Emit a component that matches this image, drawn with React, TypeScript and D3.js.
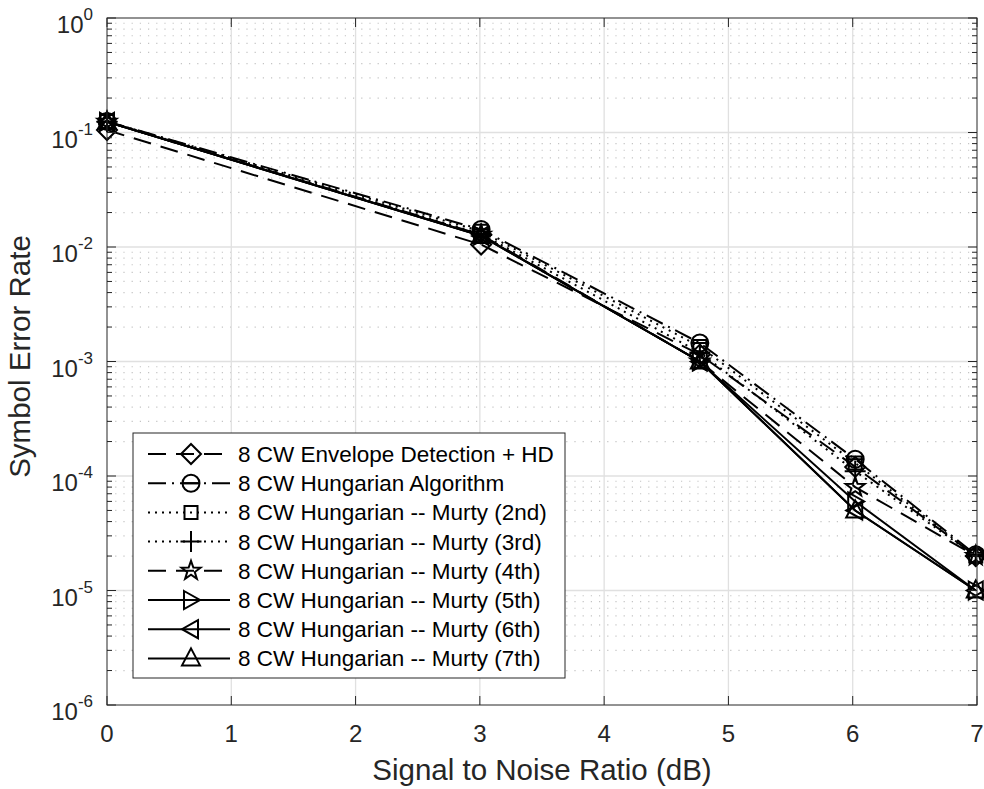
import React, { useEffect, useRef } from 'react';
import * as d3 from 'd3';

// SNR in dB
const snrDb = [0, 3.01, 4.77, 6.02, 6.99];

// symbol error rate per detector
const envelopeHd = [0.105, 0.0105, 1.15e-3, 1.2e-4, 2e-5];
const hungarian = [0.125, 0.0142, 1.45e-3, 1.4e-4, 2.05e-5];
const murty2 = [0.125, 0.0137, 1.35e-3, 1.3e-4, 2e-5];
const murty3 = [0.124, 0.013, 1.2e-3, 1.1e-4, 2e-5];
const murty4 = [0.124, 0.0128, 1.0e-3, 8e-5, 2e-5];
const murty5 = [0.124, 0.0126, 1.0e-3, 6e-5, 1e-5];
const murty6 = [0.124, 0.0125, 1.0e-3, 5e-5, 1e-5];
const murty7 = [0.124, 0.0125, 1.0e-3, 5e-5, 1e-5];

const seriesNames = [
  '8 CW Envelope Detection + HD',
  '8 CW Hungarian Algorithm',
  '8 CW Hungarian -- Murty (2nd)',
  '8 CW Hungarian -- Murty (3rd)',
  '8 CW Hungarian -- Murty (4th)',
  '8 CW Hungarian -- Murty (5th)',
  '8 CW Hungarian -- Murty (6th)',
  '8 CW Hungarian -- Murty (7th)',
];
const seriesValues = [envelopeHd, hungarian, murty2, murty3, murty4, murty5, murty6, murty7];
const seriesDash = ['18,10', '18,6,2,6', '2,5', '2,5', '18,10', null, null, null];
const seriesMarker = ['diamond', 'circle', 'square', 'plus', 'star', 'right', 'left', 'up'];

const xTicks = [0, 1, 2, 3, 4, 5, 6, 7];
const yExponents = [0, -1, -2, -3, -4, -5, -6];

const FONT = '"Liberation Sans", Arial, Helvetica, sans-serif';
const INK = '#262626';

function markerPath(kind: string, cx: number, cy: number): string {
  const p = d3.path();
  if (kind === 'diamond') {
    const r = 10;
    p.moveTo(cx, cy - r); p.lineTo(cx + r, cy); p.lineTo(cx, cy + r); p.lineTo(cx - r, cy); p.closePath();
  } else if (kind === 'circle') {
    p.moveTo(cx + 8.5, cy); p.arc(cx, cy, 8.5, 0, Math.PI * 2);
    p.moveTo(cx - 8.5, cy); p.lineTo(cx + 8.5, cy);
  } else if (kind === 'square') {
    p.rect(cx - 6.5, cy - 6.5, 13, 13);
  } else if (kind === 'plus') {
    p.moveTo(cx - 10.5, cy); p.lineTo(cx + 10.5, cy);
    p.moveTo(cx, cy - 10.5); p.lineTo(cx, cy + 10.5);
  } else if (kind === 'star') {
    const ro = 10, ri = 4;
    for (let i = 0; i < 10; i++) {
      const r = i % 2 === 0 ? ro : ri;
      const a = -Math.PI / 2 + (i * Math.PI) / 5;
      const px = cx + r * Math.cos(a), py = cy + r * Math.sin(a);
      if (i === 0) p.moveTo(px, py); else p.lineTo(px, py);
    }
    p.closePath();
  } else if (kind === 'right') {
    p.moveTo(cx - 7, cy - 9); p.lineTo(cx + 9, cy); p.lineTo(cx - 7, cy + 9); p.closePath();
  } else if (kind === 'left') {
    p.moveTo(cx + 7, cy - 9); p.lineTo(cx - 9, cy); p.lineTo(cx + 7, cy + 9); p.closePath();
  } else if (kind === 'up') {
    p.moveTo(cx, cy - 10); p.lineTo(cx + 9, cy + 7); p.lineTo(cx - 9, cy + 7); p.closePath();
  }
  return p.toString();
}

export default function App() {
  const ref = useRef<SVGSVGElement>(null);

  useEffect(() => {
    const margin = { top: 18, right: 7, bottom: 84, left: 107 };
    const W = 984, H = 789;
    const svg = d3.select(ref.current);
    svg.selectAll('*').remove();

    const x = d3.scaleLinear().domain([0, 7]).range([margin.left, W - margin.right]);
    const y = d3.scaleLog().domain([1e-6, 1]).range([H - margin.bottom, margin.top]);
    const [x0, x1] = x.range();
    const [y0, y1] = y.range();

    const minors: number[] = [];
    for (let e = -6; e < 0; e++) for (let m = 2; m <= 9; m++) minors.push(m * Math.pow(10, e));

    const grid = svg.append('g');
    grid.selectAll('.ymin').data(minors).enter().append('line')
      .attr('x1', x0).attr('x2', x1).attr('y1', d => y(d)).attr('y2', d => y(d))
      .attr('stroke', '#c4c4c4').attr('stroke-width', 1.2).attr('stroke-dasharray', '1.2,7');
    grid.selectAll('.ymaj').data(yExponents.slice(1, -1)).enter().append('line')
      .attr('x1', x0).attr('x2', x1).attr('y1', d => y(Math.pow(10, d))).attr('y2', d => y(Math.pow(10, d)))
      .attr('stroke', '#e0e0e0').attr('stroke-width', 1.3);
    grid.selectAll('.xmaj').data(xTicks.slice(1, -1)).enter().append('line')
      .attr('y1', y0).attr('y2', y1).attr('x1', d => x(d)).attr('x2', d => x(d))
      .attr('stroke', '#e0e0e0').attr('stroke-width', 1.3);

    const line = d3.line<number>().x((_, i) => x(snrDb[i])).y(d => y(d));
    const plot = svg.append('g');
    seriesValues.forEach((vals, k) => {
      plot.append('path').attr('d', line(vals) as string)
        .attr('fill', 'none').attr('stroke', '#000').attr('stroke-width', 2)
        .attr('stroke-dasharray', seriesDash[k]);
      vals.forEach((v, i) => {
        plot.append('path').attr('d', markerPath(seriesMarker[k], x(snrDb[i]), y(v)))
          .attr('fill', 'none').attr('stroke', '#000').attr('stroke-width', 2);
      });
    });

    // axes box and ticks
    const ax = svg.append('g').attr('stroke', INK).attr('stroke-width', 1);
    ax.append('rect').attr('x', x0).attr('y', y1).attr('width', x1 - x0).attr('height', y0 - y1).attr('fill', 'none');
    xTicks.forEach(t => {
      ax.append('line').attr('x1', x(t)).attr('x2', x(t)).attr('y1', y0).attr('y2', y0 - 9);
      ax.append('line').attr('x1', x(t)).attr('x2', x(t)).attr('y1', y1).attr('y2', y1 + 9);
    });
    yExponents.forEach(e => {
      const yy = y(Math.pow(10, e));
      ax.append('line').attr('x1', x0).attr('x2', x0 + 9).attr('y1', yy).attr('y2', yy);
      ax.append('line').attr('x1', x1).attr('x2', x1 - 9).attr('y1', yy).attr('y2', yy);
    });
    minors.forEach(m => {
      const yy = y(m);
      ax.append('line').attr('x1', x0).attr('x2', x0 + 5).attr('y1', yy).attr('y2', yy);
      ax.append('line').attr('x1', x1).attr('x2', x1 - 5).attr('y1', yy).attr('y2', yy);
    });

    const txt = svg.append('g').attr('font-family', FONT).attr('fill', INK);
    xTicks.forEach(t => {
      txt.append('text').attr('x', x(t)).attr('y', y0 + 37).attr('text-anchor', 'middle')
        .attr('font-size', 24).text(String(t));
    });
    yExponents.forEach(e => {
      const t = txt.append('text').attr('x', x0 - 14).attr('y', y(Math.pow(10, e)) + 15)
        .attr('text-anchor', 'end').attr('font-size', 24);
      t.append('tspan').text('10');
      t.append('tspan').attr('dy', -13).attr('font-size', 17).text(String(e));
    });
    txt.append('text').attr('x', (x0 + x1) / 2).attr('y', 780).attr('text-anchor', 'middle')
      .attr('font-size', 29.5).text('Signal to Noise Ratio (dB)');
    txt.append('text').attr('transform', `translate(30,${(y0 + y1) / 2 - 5}) rotate(-90)`)
      .attr('text-anchor', 'middle').attr('font-size', 29.5).text('Symbol Error Rate');

    // legend
    const lg = svg.append('g');
    const lx = 133, ly = 433, lw = 432, rowH = 29.2;
    lg.append('rect').attr('x', lx).attr('y', ly).attr('width', lw).attr('height', 245)
      .attr('fill', '#fff').attr('stroke', INK).attr('stroke-width', 1);
    seriesNames.forEach((name, k) => {
      const cy = ly + 21 + k * rowH;
      lg.append('line').attr('x1', lx + 15).attr('x2', lx + 97).attr('y1', cy).attr('y2', cy)
        .attr('stroke', '#000').attr('stroke-width', 2).attr('stroke-dasharray', seriesDash[k]);
      lg.append('path').attr('d', markerPath(seriesMarker[k], lx + 58, cy))
        .attr('fill', 'none').attr('stroke', '#000').attr('stroke-width', 2);
      lg.append('text').attr('x', lx + 105).attr('y', cy + 8).attr('font-family', FONT)
        .attr('font-size', 22.5).attr('fill', '#000').text(name);
    });
  }, []);

  return (
    <svg ref={ref} width={984} height={789}
      style={{ position: 'absolute', left: 0, top: 0, background: '#fff' }} />
  );
}
